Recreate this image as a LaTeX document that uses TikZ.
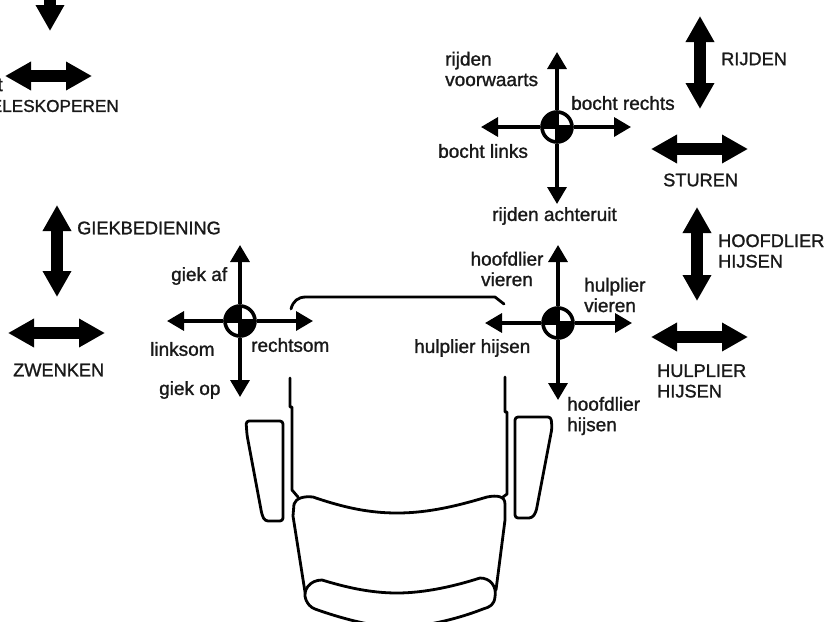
\documentclass[tikz,border=0pt]{standalone}
\usepackage{fontspec}
\usetikzlibrary{arrows.meta}
\newfontfamily\lblfont[FakeBold=1.3]{Liberation Sans}
\tikzset{
  lbl/.style={inner sep=0pt,font=\lblfont\fontsize{19}{20.5}\selectfont,text=black!90},
  lblw/.style={lbl,anchor=west,align=left},
  caps/.style={font=\lblfont\fontsize{18.2}{20.5}\selectfont},
  knob/.style={draw,circle,line width=3.6pt,minimum size=30pt,inner sep=0pt,fill=white,
    path picture={
      \fill[black] (path picture bounding box.north west) rectangle (path picture bounding box.center);
      \fill[black] (path picture bounding box.south east) rectangle (path picture bounding box.center);
      \draw[line width=3.4pt] (path picture bounding box.north) -- (path picture bounding box.south);
      \draw[line width=3.4pt] (path picture bounding box.west) -- (path picture bounding box.east);
    }},
  stick/.style={line width=3.4pt,-{Triangle[length=17pt,width=19pt]}},
  bigarrow/.style={line width=12pt,{Triangle[length=26pt,width=27pt]}-{Triangle[length=26pt,width=27pt]}},
  seat/.style={line width=2.8pt,line join=round,line cap=round},
}
\begin{document}
\begin{tikzpicture}[x=1pt,y=-1pt]
  \useasboundingbox[clip] (0,0) rectangle (824,621);

  % Big arrows
  \coordinate (telesTop) at (50,-40);
  \coordinate (telesBot) at (50,31);
  \coordinate (telesL) at (5,76);
  \coordinate (telesR) at (92,76);
  \coordinate (giekT) at (57,205);
  \coordinate (giekB) at (57,297);
  \coordinate (zwenkL) at (8,333);
  \coordinate (zwenkR) at (105,333);
  \coordinate (rijdenT) at (700,16);
  \coordinate (rijdenB) at (700,109);
  \coordinate (sturenL) at (651,149);
  \coordinate (sturenR) at (748,149);
  \coordinate (hoofdT) at (697,207);
  \coordinate (hoofdB) at (697,301);
  \coordinate (hulpL) at (651,337);
  \coordinate (hulpR) at (748,337);
  \draw[bigarrow] (telesTop) -- (telesBot);
  \draw[bigarrow] (telesL) -- (telesR);
  \draw[bigarrow] (giekT) -- (giekB);
  \draw[bigarrow] (zwenkL) -- (zwenkR);
  \draw[bigarrow] (rijdenT) -- (rijdenB);
  \draw[bigarrow] (sturenL) -- (sturenR);
  \draw[bigarrow] (hoofdT) -- (hoofdB);
  \draw[bigarrow] (hulpL) -- (hulpR);

  % Knobs
  \node[knob] (knobTop) at (557,127) {};
  \node[knob] (knobLeft) at (240,321) {};
  \node[knob] (knobRight) at (558,323) {};

  % Sticks
  \coordinate (topN) at (557,52);
  \coordinate (topS) at (557,204);
  \coordinate (topW) at (481,127);
  \coordinate (topE) at (631,127);
  \coordinate (leftN) at (240,245);
  \coordinate (leftS) at (240,397);
  \coordinate (leftW) at (167,321);
  \coordinate (leftE) at (313,321);
  \coordinate (rightN) at (558,245);
  \coordinate (rightS) at (558,400);
  \coordinate (rightW) at (485,323);
  \coordinate (rightE) at (632,323);
  \foreach \knb/\tip in {knobTop/topN,knobTop/topS,knobTop/topW,knobTop/topE,
      knobLeft/leftN,knobLeft/leftS,knobLeft/leftW,knobLeft/leftE,
      knobRight/rightN,knobRight/rightS,knobRight/rightW,knobRight/rightE}
    \draw[stick] (\knb) -- (\tip);

  % Labels
  \node[lbl,anchor=east] (lblT) at (3,85) {t};
  \node[lbl,font=\lblfont\fontsize{17.2}{20.5}\selectfont,anchor=east] (lblTeles) at (119,106) {TELESKOPEREN};
  \node[lblw,caps] (lblGiek) at (77,228) {GIEKBEDIENING};
  \node[lblw,caps] (lblZwenk) at (13,370) {ZWENKEN};
  \node[lblw] (lblAf) at (171,276) {giek af};
  \node[lblw] (lblLinks) at (150,349) {linksom};
  \node[lblw] (lblRechts) at (251,345) {rechtsom};
  \node[lblw] (lblOp) at (159,390) {giek op};
  \node[lblw] (lblVoor) at (445,69) {rijden\\voorwaarts};
  \node[lblw] (lblBochtR) at (571,103) {bocht rechts};
  \node[lblw] (lblBochtL) at (438,151) {bocht links};
  \node[lblw] (lblAchter) at (492,216) {rijden achteruit};
  \node[lbl,align=center] (lblHoofdV) at (507,269) {hoofdlier\\vieren};
  \node[lblw] (lblHulpV) at (584,295) {hulplier\\vieren};
  \node[lblw] (lblHulpH) at (414,348) {hulplier hijsen};
  \node[lblw] (lblHoofdH) at (567,416) {hoofdlier\\hijsen};
  \node[lblw,caps] (lblRijden) at (721,59) {RIJDEN};
  \node[lblw,caps] (lblSturen) at (663,180) {STUREN};
  \node[lblw,caps] (lblHoofd) at (718,251) {HOOFDLIER\\HIJSEN};
  \node[lblw,caps] (lblHulp) at (657,381) {HULPLIER\\HIJSEN};

  % Seat
  \draw[seat] (291,309) .. controls (293,301) and (298,297) .. (306,297) -- (495,297) -- (504,304);
  \draw[seat] (290,378) -- (290,407) -- (292,407) -- (292,490) -- (298,497);
  \draw[seat] (505,377) -- (505,412) -- (507,412) -- (507,494) -- (503,497);
  \draw[seat] (294,504) .. controls (296,498) and (304,496) .. (313,497)
    .. controls (345,508) and (370,513) .. (397,513)
    .. controls (430,513) and (460,505) .. (487,497)
    .. controls (497,495) and (505,496) .. (505,504)
    -- (505,520) -- (496,590);
  \draw[seat] (294,504) -- (293,516) -- (305,592);
  \draw[seat] (306,600) .. controls (302,590) and (310,580) .. (322,580)
    .. controls (345,587) and (370,593) .. (397,593)
    .. controls (425,593) and (455,586) .. (480,578)
    .. controls (490,578) and (497,586) .. (495,597)
    .. controls (494,605) and (490,607) .. (483,609)
    .. controls (460,618) and (430,626) .. (397,628)
    .. controls (370,626) and (340,618) .. (315,609)
    .. controls (310,607) and (308,604) .. (306,600);
  \draw[seat,rounded corners=3pt] (283,421) -- (246,421) -- (247,435) -- (262,515) -- (265,521) -- (283,521) -- cycle;
  \draw[seat,rounded corners=3pt] (515,417) -- (551,417) -- (552,428) -- (536,512) -- (532,518) -- (515,518) -- cycle;
\end{tikzpicture}
\end{document}
